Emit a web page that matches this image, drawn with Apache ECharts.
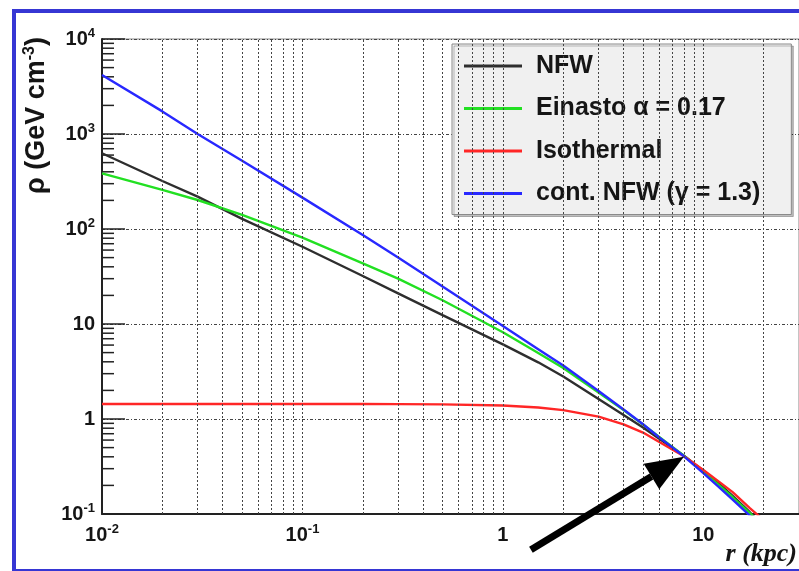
<!DOCTYPE html>
<html>
<head>
<meta charset="utf-8">
<script src="https://cdn.jsdelivr.net/npm/echarts@6/dist/echarts.min.js"></script>
<style>
  html, body { margin: 0; padding: 0; background: #fff; }
  #main { width: 799px; height: 571px; }
</style>
</head>
<body>
<div id="main"></div>
<script>
// r in kpc, rho in GeV cm^-3
var radius     = [0.01, 0.02, 0.03, 0.05, 0.1, 0.2, 0.3, 0.5, 1, 1.5, 2, 3, 4, 5, 6, 8, 10, 12, 14, 17, 20];
var nfw        = [627, 320, 219, 128, 65, 32, 21, 12.4, 6.1, 3.95, 2.8, 1.62, 1.1, 0.813, 0.624, 0.411, 0.285, 0.207, 0.155, 0.105, 0.074];
var einasto    = [385, 258, 202, 141, 81, 43.5, 30, 17.8, 8.2, 4.95, 3.45, 1.9, 1.24, 0.877, 0.652, 0.41, 0.278, 0.2, 0.15, 0.103, 0.0747];
var isothermal = [1.44, 1.44, 1.44, 1.44, 1.44, 1.44, 1.435, 1.425, 1.385, 1.32, 1.24, 1.06, 0.88, 0.72, 0.575, 0.405, 0.29, 0.218, 0.17, 0.116, 0.086];
var contNfw    = [4170, 1730, 1000, 523, 214, 86.5, 50, 24.8, 9.5, 5.43, 3.65, 1.97, 1.26, 0.88, 0.645, 0.405, 0.269, 0.191, 0.142, 0.0967, 0.0696];

var seriesNames = ['NFW', 'Einasto \u03b1 = 0.17', 'Isothermal', 'cont. NFW (\u03b3 = 1.3)'];
var seriesColors = ['#2e2e2e', '#22e022', '#ff2626', '#2828ff'];

// tick labels
var xTickExp  = [-2, -1, 0, 1];
var xTickText = ['10{s|-2}', '10{s|-1}', '1', '10'];
var yTickExp  = [-1, 0, 1, 2, 3, 4];
var yTickText = ['10{s|-1}', '1', '10', '10{s|2}', '10{s|3}', '10{s|4}'];

// local density marker (arrow tip)
var arrowAt = [8, 0.4];

var xMin = 0.01, xMax = 30, yMin = 0.1, yMax = 10000;

// dashed vertical grid at 1..9 of every decade
var xGrid = [];
for (var d = 0.01; d < 20; d *= 10) {
  for (var m = (d === 0.01 ? 2 : 1); m <= 9; m++) {
    var v = +(m * d).toPrecision(3);
    if (v < xMax) xGrid.push(v);
  }
}
// minor ticks on the y axis
var yMinor = [];
for (var e = 0.1; e < 5000; e *= 10) {
  for (var k = 2; k <= 9; k++) yMinor.push(+(k * e).toPrecision(3));
}

function tickLabel(exps, texts) {
  return function (v) {
    var lg = Math.log10(v);
    var n = Math.round(lg);
    if (Math.abs(lg - n) > 1e-6) return '';
    var i = exps.indexOf(n);
    return i < 0 ? '' : texts[i];
  };
}

var labelFont = {
  fontFamily: 'Liberation Sans', fontWeight: 'bold', fontSize: 20, color: '#151515', lineHeight: 24,
  rich: { s: { fontFamily: 'Liberation Sans', fontWeight: 'bold', fontSize: 13, color: '#151515', verticalAlign: 'top', lineHeight: 14 } }
};

var chart = echarts.init(document.getElementById('main'));

var series = [];
var curves = [nfw, einasto, isothermal, contNfw];
for (var i = 0; i < curves.length; i++) {
  series.push({
    name: seriesNames[i],
    type: 'line',
    data: radius.map(function (r, j) { return [r, curves[i][j]]; }),
    showSymbol: false,
    clip: true,
    z: 3,
    color: seriesColors[i],
    lineStyle: { color: seriesColors[i], width: 2.4 }
  });
}
series.push({
  name: 'ticks',
  type: 'custom',
  silent: true,
  z: 1,
  data: yMinor.map(function (v) { return [xMin, v]; }),
  renderItem: function (params, api) {
    var p = api.coord([api.value(0), api.value(1)]);
    return {
      type: 'line',
      shape: { x1: p[0], y1: p[1], x2: p[0] + 12, y2: p[1] },
      style: { stroke: '#222', lineWidth: 1.5 }
    };
  },
  markLine: {
    silent: true,
    symbol: ['none', 'none'],
    label: { show: false },
    lineStyle: { color: '#444', type: [2, 2], width: 1 },
    data: xGrid.map(function (v) { return { xAxis: v }; })
  }
});

chart.setOption({
  animation: false,
  backgroundColor: '#ffffff',
  grid: {
    left: 102, right: 0, top: 39, bottom: 57,
    show: true, borderColor: '#888', borderWidth: 1
  },
  xAxis: {
    type: 'log', logBase: 10, min: xMin, max: xMax,
    axisLine: { lineStyle: { color: '#222', width: 2 } },
    axisTick: { show: false },
    splitLine: { show: false },
    axisLabel: Object.assign({ margin: 9, formatter: tickLabel(xTickExp, xTickText), showMaxLabel: false }, labelFont)
  },
  yAxis: {
    type: 'log', logBase: 10, min: yMin, max: yMax,
    axisLine: { show: true, lineStyle: { color: '#222', width: 2 } },
    axisTick: { show: true, inside: true, length: 23, lineStyle: { color: '#222', width: 1.5 } },
    splitLine: { show: true, lineStyle: { color: '#444', type: [3, 2, 1, 2], width: 1 } },
    axisLabel: Object.assign({ margin: 7, formatter: tickLabel(yTickExp, yTickText) }, labelFont)
  },
  legend: {
    data: seriesNames,
    orient: 'vertical',
    left: 452, top: 44,
    padding: [8, 31, 7, 12],
    itemWidth: 58, itemHeight: 3, itemGap: 14.5,
    icon: 'rect',
    backgroundColor: '#f0f0f0',
    borderColor: '#8a8a8a', borderWidth: 1,
    shadowColor: 'rgba(0,0,0,0.25)', shadowOffsetX: 2, shadowOffsetY: 2,
    textStyle: {
      fontFamily: 'Liberation Sans', fontWeight: 'bold', fontSize: 25,
      color: '#151515', lineHeight: 28, padding: [0, 0, 0, 9]
    }
  },
  series: series
});

// annotations: axis titles, frame and the arrow to the local density
var tip = chart.convertToPixel({ gridIndex: 0 }, arrowAt);
var tail = [tip[0] - 153, tip[1] + 93];
var len = Math.sqrt(153 * 153 + 93 * 93);
var ux = (tail[0] - tip[0]) / len, uy = (tail[1] - tip[1]) / len;
var base = [tip[0] + ux * 38, tip[1] + uy * 38];
var px = -uy * 15, py = ux * 15;

chart.setOption({
  graphic: [
    {
      type: 'rect', silent: true, z: 10,
      shape: { x: 14, y: 11, width: 830, height: 560 },
      style: { fill: 'none', stroke: '#3636d4', lineWidth: 4 }
    },
    {
      type: 'text', silent: true, z: 10,
      x: 37, y: 37, rotation: Math.PI / 2,
      style: {
        text: '\u03c1 (GeV cm{s|-3})',
        fontFamily: 'Liberation Sans', fontWeight: 'bold', fontSize: 27, fill: '#151515',
        align: 'right', verticalAlign: 'middle', lineHeight: 30,
        rich: { s: { fontFamily: 'Liberation Sans', fontWeight: 'bold', fontSize: 16, fill: '#151515', verticalAlign: 'top', lineHeight: 16 } }
      }
    },
    {
      type: 'text', silent: true, z: 10,
      x: 797, y: 554,
      style: {
        text: 'r (kpc)',
        fontFamily: 'Liberation Serif', fontStyle: 'italic', fontWeight: 'bold', fontSize: 26, fill: '#151515',
        align: 'right', verticalAlign: 'middle'
      }
    },
    {
      type: 'line', silent: true, z: 10,
      shape: { x1: tail[0], y1: tail[1], x2: base[0], y2: base[1] },
      style: { stroke: '#000', lineWidth: 7 }
    },
    {
      type: 'polygon', silent: true, z: 10,
      shape: { points: [tip, [base[0] + px, base[1] + py], [base[0] - px, base[1] - py]] },
      style: { fill: '#000' }
    }
  ]
});
</script>
</body>
</html>
